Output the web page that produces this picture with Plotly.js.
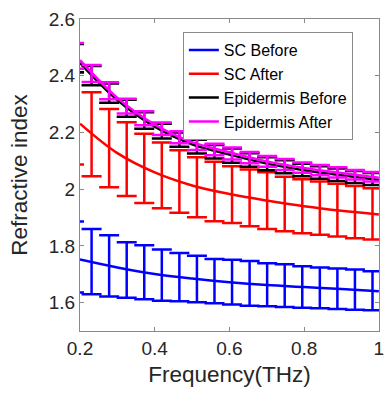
<!DOCTYPE html>
<html>
<head>
<meta charset="utf-8">
<script src="https://cdn.plot.ly/plotly-3.0.1.min.js"></script>
<style>html,body{margin:0;padding:0;background:#fff;}#chart{width:384px;height:394px;}</style>
</head>
<body>
<div id="chart"></div>
<script>
// ---- data ----
var seriesNames = ["SC Before", "SC After", "Epidermis Before", "Epidermis After"];

// error-bar sample frequencies (THz)
var freqErr = [0.184, 0.231, 0.278, 0.325, 0.372, 0.419, 0.466, 0.513, 0.560,
               0.607, 0.654, 0.701, 0.748, 0.795, 0.842, 0.889, 0.936, 0.983];

// smooth mean curves (THz)
var freqLine = [0.2, 0.3, 0.4, 0.5, 0.6, 0.7, 0.8, 0.9, 1.0];
var scBeforeLine = [1.752, 1.724, 1.701, 1.685, 1.672, 1.662, 1.655, 1.648, 1.640];
var scAfterLine = [2.231, 2.127, 2.059, 2.013, 1.983, 1.960, 1.940, 1.924, 1.911];
var epiBeforeLine = [2.445, 2.314, 2.220, 2.158, 2.122, 2.090, 2.067, 2.049, 2.032];
var epiAfterLine = [2.455, 2.322, 2.228, 2.166, 2.130, 2.098, 2.075, 2.057, 2.040];

// means at the error-bar frequencies
var scBeforeMean = [1.761, 1.745, 1.730, 1.715, 1.707, 1.697, 1.690, 1.683, 1.676,
                    1.672, 1.668, 1.663, 1.660, 1.655, 1.652, 1.649, 1.646, 1.642];
var scBeforeErr = [0.125, 0.115, 0.108, 0.098, 0.095, 0.090, 0.085, 0.082, 0.078,
                   0.079, 0.079, 0.076, 0.075, 0.073, 0.072, 0.071, 0.071, 0.069];

var scAfterMean = [2.249, 2.194, 2.145, 2.106, 2.073, 2.049, 2.027, 2.007, 1.992,
                   1.981, 1.969, 1.960, 1.948, 1.940, 1.933, 1.926, 1.919, 1.913];
var scAfterErr = [0.162, 0.148, 0.138, 0.130, 0.122, 0.116, 0.110, 0.106, 0.105,
                  0.100, 0.100, 0.100, 0.096, 0.095, 0.094, 0.093, 0.092, 0.090];

var epiBeforeMean = [2.462, 2.400, 2.339, 2.285, 2.242, 2.205, 2.175, 2.150, 2.132,
                     2.118, 2.103, 2.090, 2.079, 2.068, 2.059, 2.051, 2.043, 2.036];
var epiBeforeErr = [0.050, 0.034, 0.034, 0.030, 0.029, 0.026, 0.025, 0.024, 0.024,
                    0.025, 0.024, 0.023, 0.023, 0.022, 0.022, 0.022, 0.021, 0.021];

var epiAfterMean = [2.470, 2.408, 2.347, 2.293, 2.250, 2.213, 2.183, 2.158, 2.140,
                    2.126, 2.111, 2.098, 2.087, 2.076, 2.067, 2.059, 2.051, 2.044];
var epiAfterErr = [0.045, 0.030, 0.030, 0.026, 0.025, 0.022, 0.021, 0.020, 0.020,
                   0.021, 0.020, 0.019, 0.019, 0.018, 0.018, 0.018, 0.017, 0.017];

var xTickVals = [0.2, 0.4, 0.6, 0.8, 1.0];
var xTickText = ["0.2", "0.4", "0.6", "0.8", "1"];
var yTickVals = [1.6, 1.8, 2.0, 2.2, 2.4, 2.6];
var yTickText = ["1.6", "1.8", "2", "2.2", "2.4", "2.6"];

var colors = ["#0000ff", "#ff0000", "#000000", "#ff00ff"];

// ---- build traces ----
var lines = [scBeforeLine, scAfterLine, epiBeforeLine, epiAfterLine];
var means = [scBeforeMean, scAfterMean, epiBeforeMean, epiAfterMean];
var errs = [scBeforeErr, scAfterErr, epiBeforeErr, epiAfterErr];

var traces = [];
for (var i = 0; i < 4; i++) {
  traces.push({
    type: "scatter", mode: "markers", x: freqErr, y: means[i],
    marker: {size: 1, color: colors[i]},
    error_y: {type: "data", array: errs[i], visible: true, color: colors[i], thickness: 2.5, width: 10},
    showlegend: false, hoverinfo: "skip"
  });
  traces.push({
    type: "scatter", mode: "lines", x: freqLine, y: lines[i], name: seriesNames[i],
    line: {color: colors[i], width: 2.5, shape: "spline", smoothing: 1}
  });
}

var fontFam = "Liberation Sans, Arial, Helvetica, sans-serif";
var axisCommon = {
  showgrid: false, zeroline: false, showline: true, linecolor: "#8a8a8a", linewidth: 1,
  mirror: "ticks", ticks: "inside", ticklen: 4, tickcolor: "#8a8a8a", tickwidth: 1,
  tickfont: {family: fontFam, size: 19, color: "#262626"},
  ticklabeloverflow: "allow"
};

var layout = {
  width: 384, height: 394,
  margin: {l: 80, r: 5, t: 19, b: 63},
  paper_bgcolor: "#ffffff", plot_bgcolor: "#ffffff",
  font: {family: fontFam, color: "#262626"},
  xaxis: Object.assign({}, axisCommon, {
    range: [0.2, 1.0004], tickmode: "array", tickvals: xTickVals, ticktext: xTickText,
    title: {text: "Frequency(THz)", font: {family: fontFam, size: 22.5, color: "#262626"}, standoff: 8}
  }),
  yaxis: Object.assign({}, axisCommon, {
    range: [1.5, 2.6], tickmode: "array", tickvals: yTickVals, ticktext: yTickText,
    title: {text: "Refractive index", font: {family: fontFam, size: 22.5, color: "#262626"}, standoff: 14}
  }),
  legend: {
    x: 0.344, y: 0.958, xanchor: "left", yanchor: "top",
    bgcolor: "#ffffff", bordercolor: "#8a8a8a", borderwidth: 1,
    font: {family: fontFam, size: 16, color: "#000000"},
    tracegroupgap: 0
  },
  showlegend: true
};

Plotly.newPlot("chart", traces, layout, {displayModeBar: false, staticPlot: true});
</script>
</body>
</html>
